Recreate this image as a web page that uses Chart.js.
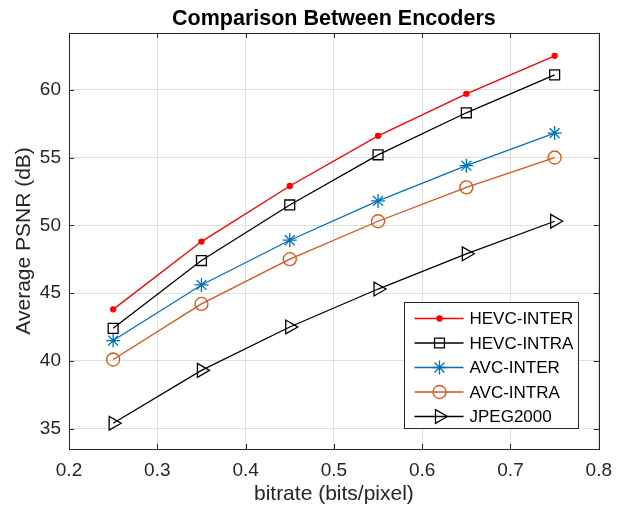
<!DOCTYPE html>
<html lang="en">
<head>
  <meta charset="UTF-8">
  <title>Comparison Between Encoders</title>
  <script src="https://cdn.jsdelivr.net/npm/chart.js"></script>
  <style>
    html, body { margin: 0; padding: 0; background: #fff; }
    #wrap { width: 622px; height: 507px; }
  </style>
</head>
<body>
  <div id="wrap"><canvas id="grafico" width="622" height="507"></canvas></div>

  <script>
    // bitrate (bits/pixel)
    const bitrates = [0.25, 0.35, 0.45, 0.55, 0.65, 0.75];

    // Average PSNR (dB) for each encoder
    const hevcInter = [43.8, 48.8, 52.9, 56.6, 59.7, 62.5];
    const hevcIntra = [42.4, 47.4, 51.5, 55.2, 58.3, 61.1];
    const avcInter  = [41.5, 45.6, 48.9, 51.8, 54.4, 56.8];
    const avcIntra  = [40.1, 44.2, 47.5, 50.3, 52.8, 55.0];
    const jpeg2000  = [35.4, 39.3, 42.5, 45.3, 47.9, 50.3];

    const seriesNames = ['HEVC-INTER', 'HEVC-INTRA', 'AVC-INTER', 'AVC-INTRA', 'JPEG2000'];

    const xTicks = [0.2, 0.3, 0.4, 0.5, 0.6, 0.7, 0.8];
    const yTicks = [35, 40, 45, 50, 55, 60];

    const FONT = "'Liberation Sans', Arial, Helvetica, sans-serif";
    const AXIS = '#262626';

    const toPoints = vals => vals.map((v, i) => ({ x: bitrates[i], y: v }));

    const estilos = [
      { color: '#ff0000', pointStyle: 'circle', radius: 2.5, fill: '#ff0000', rotation: 0 },
      { color: '#000000', pointStyle: 'rect', radius: 7, fill: 'rgba(0,0,0,0)', rotation: 0 },
      { color: '#0072BD', pointStyle: 'star', radius: 7, fill: 'rgba(0,0,0,0)', rotation: 0 },
      { color: '#D95319', pointStyle: 'circle', radius: 6.5, fill: 'rgba(0,0,0,0)', rotation: 0 },
      { color: '#000000', pointStyle: 'triangle', radius: 8, fill: 'rgba(0,0,0,0)', rotation: 90 }
    ];

    const valores = [hevcInter, hevcIntra, avcInter, avcIntra, jpeg2000];

    const datasets = valores.map((vals, i) => ({
      label: seriesNames[i],
      data: toPoints(vals),
      borderColor: estilos[i].color,
      backgroundColor: estilos[i].color,
      borderWidth: 1.3,
      tension: 0,
      pointStyle: estilos[i].pointStyle,
      pointRadius: estilos[i].radius,
      pointRotation: estilos[i].rotation,
      pointBackgroundColor: estilos[i].fill,
      pointBorderColor: estilos[i].color,
      pointBorderWidth: 1.3
    }));

    // box, inward ticks and the legend inside the axes (MATLAB style)
    const matlabBox = {
      id: 'matlabBox',
      afterDraw(chart) {
        const { ctx, chartArea: a, scales } = chart;
        ctx.save();
        ctx.strokeStyle = AXIS;
        ctx.lineWidth = 1;
        ctx.beginPath();
        xTicks.forEach(t => {
          const px = Math.round(scales.x.getPixelForValue(t)) + 0.5;
          ctx.moveTo(px, a.bottom); ctx.lineTo(px, a.bottom - 5);
          ctx.moveTo(px, a.top); ctx.lineTo(px, a.top + 5);
        });
        yTicks.forEach(t => {
          const py = Math.round(scales.y.getPixelForValue(t)) + 0.5;
          ctx.moveTo(a.left, py); ctx.lineTo(a.left + 5, py);
          ctx.moveTo(a.right, py); ctx.lineTo(a.right - 5, py);
        });
        ctx.stroke();
        ctx.strokeRect(Math.round(a.left) + 0.5, Math.round(a.top) + 0.5,
          Math.round(a.right - a.left), Math.round(a.bottom - a.top));

        // legend
        const w = 174, h = 126;
        const x0 = Math.round(a.right - 21 - w) + 0.5;
        const y0 = Math.round(a.bottom - 21 - h) + 0.5;
        ctx.fillStyle = '#ffffff';
        ctx.fillRect(x0, y0, w, h);
        ctx.strokeStyle = AXIS;
        ctx.strokeRect(x0, y0, w, h);
        ctx.font = '17px ' + FONT;
        ctx.textBaseline = 'middle';
        chart.data.datasets.forEach((ds, i) => {
          const y = y0 + 16 + i * 24.5;
          ctx.strokeStyle = ds.borderColor;
          ctx.lineWidth = 1.3;
          ctx.beginPath();
          ctx.moveTo(x0 + 10, y); ctx.lineTo(x0 + 59, y);
          ctx.stroke();
          ctx.save();
          ctx.fillStyle = ds.pointBackgroundColor;
          ctx.strokeStyle = ds.pointBorderColor;
          ctx.lineWidth = 1.3;
          Chart.helpers.drawPoint(ctx, {
            pointStyle: ds.pointStyle,
            radius: ds.pointRadius,
            rotation: ds.pointRotation,
            borderWidth: 1.3
          }, x0 + 35, y);
          ctx.restore();
          ctx.fillStyle = '#000';
          ctx.fillText(ds.label, x0 + 65, y + 1);
        });
        ctx.restore();
      }
    };

    const config = {
      type: 'line',
      data: { datasets },
      options: {
        responsive: false,
        animation: false,
        layout: { padding: { left: 0, right: 23, top: 0, bottom: 0 } },
        plugins: {
          legend: { display: false },
          tooltip: { enabled: false },
          title: {
            display: true,
            fullSize: false,
            text: 'Comparison Between Encoders',
            color: '#000',
            font: { family: FONT, size: 21.5, weight: 'bold' },
            padding: { top: 6, bottom: 1 }
          }
        },
        scales: {
          x: {
            type: 'linear',
            min: 0.2,
            max: 0.8,
            afterFit: s => { s.height = 58; },
            afterBuildTicks: s => { s.ticks = xTicks.map(v => ({ value: v })); },
            ticks: {
              color: AXIS,
              padding: 10,
              font: { family: FONT, size: 19 },
              callback: v => v.toFixed(1)
            },
            grid: { color: '#dfdfdf', drawTicks: false },
            border: { display: false },
            title: {
              display: true,
              text: 'bitrate (bits/pixel)',
              color: AXIS,
              font: { family: FONT, size: 21 },
              padding: { top: 0, bottom: 0 }
            }
          },
          y: {
            type: 'linear',
            min: 33.5,
            max: 64.2,
            afterFit: s => { s.width = 69; },
            afterBuildTicks: s => { s.ticks = yTicks.map(v => ({ value: v })); },
            ticks: {
              color: AXIS,
              padding: 8,
              font: { family: FONT, size: 19 },
              callback: v => String(v)
            },
            grid: { color: '#dfdfdf', drawTicks: false },
            border: { display: false },
            title: {
              display: true,
              text: 'Average PSNR (dB)',
              color: AXIS,
              font: { family: FONT, size: 21 },
              padding: { top: 12, bottom: 0 }
            }
          }
        }
      },
      plugins: [matlabBox]
    };

    const ctx = document.getElementById('grafico').getContext('2d');
    new Chart(ctx, config);
  </script>
</body>
</html>
